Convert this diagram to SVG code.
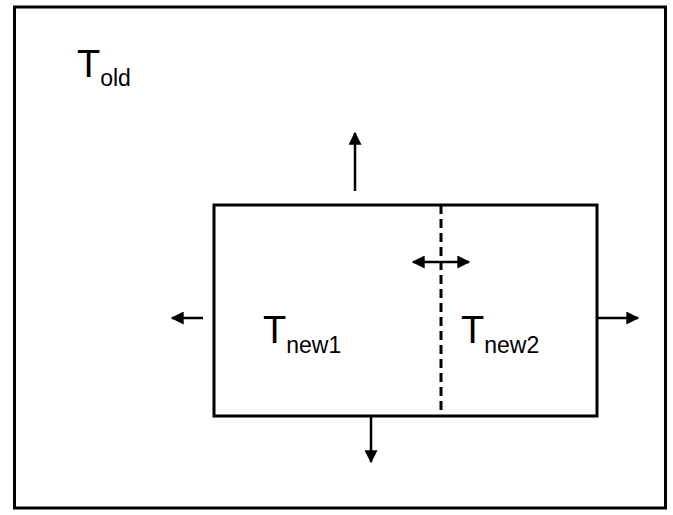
<svg xmlns="http://www.w3.org/2000/svg" width="673" height="515" viewBox="0 0 673 515">
<defs>
<marker id="ah" viewBox="0 0 10 10" refX="9" refY="5" markerWidth="5.6" markerHeight="5.2" orient="auto-start-reverse" markerUnits="strokeWidth">
<path d="M0,0 L10,5 L0,10 z" fill="#000"/>
</marker>
</defs>
<style>
.t{font-family:"Liberation Sans",Arial,sans-serif;fill:#000}
.big{font-size:38px}
.sub{font-size:23px}
.ar{stroke:#000;stroke-width:2.5;fill:none}
</style>
<rect x="0" y="0" width="673" height="515" fill="#fff"/>
<rect id="frame" x="14.5" y="7" width="651" height="501" fill="none" stroke="#000" stroke-width="3"/>
<g id="told"><text class="t big" x="77" y="77">T<tspan class="sub" dy="9">old</tspan></text></g>
<g id="box">
<rect x="214" y="205" width="383" height="211" fill="none" stroke="#000" stroke-width="3"/>
<line x1="441" y1="205" x2="441" y2="416" stroke="#000" stroke-width="3" stroke-dasharray="9,5"/>
</g>
<g id="tnew1"><text class="t big" x="263" y="343">T<tspan class="sub" dy="10">new1</tspan></text></g>
<g id="tnew2"><text class="t big" x="461" y="343">T<tspan class="sub" dy="10">new2</tspan></text></g>
<g id="connectors">
<line class="ar" x1="355" y1="191" x2="355" y2="133" marker-end="url(#ah)"/>
<line class="ar" x1="203" y1="318" x2="172" y2="318" marker-end="url(#ah)"/>
<line class="ar" x1="597" y1="318" x2="638" y2="318" marker-end="url(#ah)"/>
<line class="ar" x1="371" y1="416" x2="371" y2="462" marker-end="url(#ah)"/>
<line class="ar" x1="413" y1="262" x2="469" y2="262" marker-start="url(#ah)" marker-end="url(#ah)"/>
</g>
</svg>
